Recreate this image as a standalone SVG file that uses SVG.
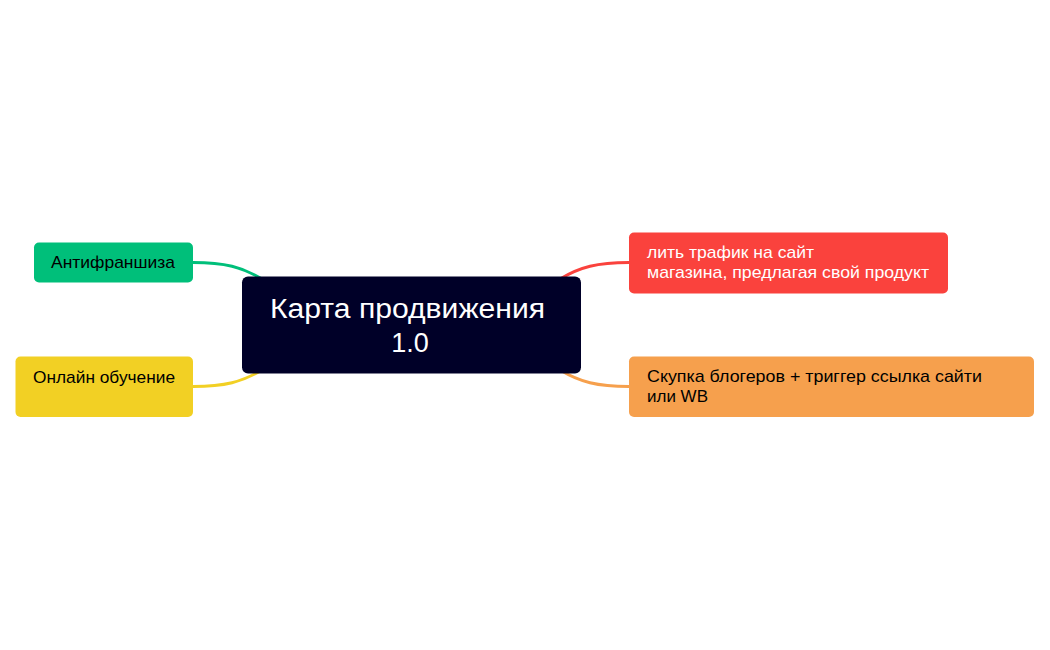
<svg xmlns="http://www.w3.org/2000/svg" width="1050" height="650" viewBox="0 0 1050 650">
<style>
  .t { font-family: "Liberation Sans", Arial, sans-serif; font-size: 17px; }
  .dark { fill: #000000; }
  .light { fill: #ffffff; }
  .edge { fill: none; stroke-width: 3; stroke-linecap: round; }
</style>
<rect width="1050" height="650" fill="#ffffff"/>
<g id="connectors">
  <path class="edge" stroke="#00bf7a" d="M193 262.5 C 225 262.5, 242 267, 262 279"/>
  <path class="edge" stroke="#f2d024" d="M193 386.5 C 225 386.5, 242 382, 262 370"/>
  <path class="edge" stroke="#fa423d" d="M629 262.5 C 597 262.5, 580 267, 560 279"/>
  <path class="edge" stroke="#f6a04d" d="M629 386.5 C 597 386.5, 580 382, 560 370"/>
</g>
<g id="node-center">
  <rect x="242" y="276.5" width="339" height="97" rx="6" fill="#000028"/>
  <text x="407.5" y="317.5" text-anchor="middle" font-family="Liberation Sans, Arial, sans-serif" font-size="27" fill="#ffffff" textLength="275" lengthAdjust="spacingAndGlyphs">Карта продвижения</text>
  <text x="410" y="352" text-anchor="middle" font-family="Liberation Sans, Arial, sans-serif" font-size="27" fill="#ffffff">1.0</text>
</g>
<g id="node-antifranchise">
  <rect x="34" y="242.5" width="159" height="40" rx="5" fill="#00bf7a"/>
  <text class="t dark" x="51" y="268" textLength="124" lengthAdjust="spacingAndGlyphs">Антифраншиза</text>
</g>
<g id="node-online">
  <rect x="15.5" y="356.5" width="177.5" height="60.5" rx="5" fill="#f2d024"/>
  <text class="t dark" x="33" y="382.5" textLength="142" lengthAdjust="spacingAndGlyphs">Онлайн обучение</text>
</g>
<g id="node-traffic">
  <rect x="629" y="232.5" width="319" height="61" rx="5" fill="#fa423d"/>
  <text class="t light" x="647" y="258.3" textLength="167" lengthAdjust="spacingAndGlyphs">лить трафик на сайт</text>
  <text class="t light" x="647" y="278.3" textLength="282" lengthAdjust="spacingAndGlyphs">магазина, предлагая свой продукт</text>
</g>
<g id="node-bloggers">
  <rect x="629" y="356.5" width="405" height="60.5" rx="5" fill="#f6a04d"/>
  <text class="t dark" x="647" y="382.3" textLength="335" lengthAdjust="spacingAndGlyphs">Скупка блогеров + триггер ссылка сайти</text>
  <text class="t dark" x="647" y="402.3" textLength="61" lengthAdjust="spacingAndGlyphs">или WB</text>
</g>
</svg>
